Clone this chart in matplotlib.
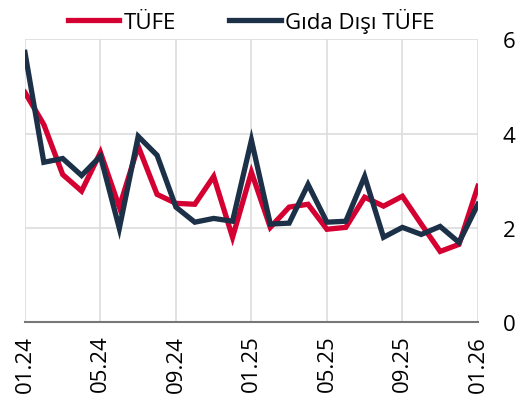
import matplotlib.pyplot as plt
import numpy as np

plt.rcParams['font.family'] = ['Open Sans', 'DejaVu Sans']

months = ['01.24', '02.24', '03.24', '04.24', '05.24', '06.24', '07.24', '08.24',
          '09.24', '10.24', '11.24', '12.24', '01.25', '02.25', '03.25', '04.25',
          '05.25', '06.25', '07.25', '08.25', '09.25', '10.25', '11.25', '12.25', '01.26']
tufe = [4.87, 4.19, 3.13, 2.78, 3.60, 2.44, 3.73, 2.71, 2.52, 2.50, 3.09, 1.80, 3.18,
        2.01, 2.44, 2.50, 1.97, 2.01, 2.65, 2.46, 2.67, 2.08, 1.50, 1.65, 2.88]
gida_disi = [5.72, 3.39, 3.47, 3.11, 3.52, 1.99, 3.94, 3.54, 2.44, 2.12, 2.20, 2.14, 3.86,
             2.08, 2.10, 2.92, 2.12, 2.14, 3.09, 1.80, 2.01, 1.86, 2.03, 1.69, 2.50]
tick_labels = ['01.24', '05.24', '09.24', '01.25', '05.25', '09.25', '01.26']

red = '#D50032'
navy = '#1C3147'

fig = plt.figure(figsize=(5.2, 4.06), dpi=100)
ax = fig.add_axes([0.048, 0.204, 0.871, 0.697])

x = np.arange(len(months))
ax.plot(x, tufe, color=red, lw=3.8, label='TÜFE', solid_joinstyle='miter')
ax.plot(x, gida_disi, color=navy, lw=3.8, label='Gıda Dışı TÜFE', solid_joinstyle='miter')

ax.set_xlim(0, len(months) - 1)
ax.set_ylim(0, 6)
ticks = [months.index(t) for t in tick_labels]
ax.set_xticks(ticks)
ax.set_xticklabels(tick_labels, rotation=90, fontsize=16)
ax.set_yticks([0, 2, 4, 6])
ax.yaxis.tick_right()
ax.tick_params(axis='y', length=0, labelsize=16, pad=18)
ax.tick_params(axis='x', length=0, pad=9)

ax.grid(True, color='#DDDDDD', lw=1.2)
ax.set_axisbelow(True)
for s in ['left', 'right', 'top']:
    ax.spines[s].set_visible(False)
ax.spines['bottom'].set_color('#777777')
ax.spines['bottom'].set_linewidth(1.5)

ax.legend(loc='lower center', bbox_to_anchor=(0.5, 0.99), ncol=2, frameon=False,
          fontsize=16, handlelength=2.3, handletextpad=0.2, columnspacing=2.4,
          borderaxespad=0)

fig.savefig('out.png', dpi=100)
